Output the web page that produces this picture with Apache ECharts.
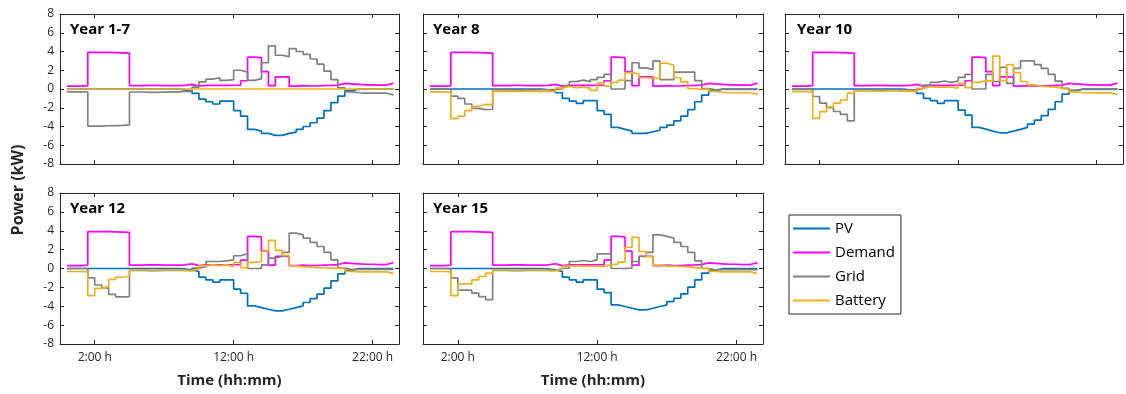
<!DOCTYPE html>
<html><head><meta charset="utf-8">
<script src="https://cdn.jsdelivr.net/npm/echarts@6/dist/echarts.min.js"></script>
<style>html,body{margin:0;padding:0;background:#fff}#c{width:1126px;height:394px}</style>
</head><body><div id="c"></div>
<script>
// time of each half-hour step (hours)
const hours = [0,0.5,1,1.5,2,2.5,3,3.5,4,4.5,5,5.5,6,6.5,7,7.5,8,8.5,9,9.5,10,10.5,11,11.5,12,12.5,13,13.5,14,14.5,15,15.5,16,16.5,17,17.5,18,18.5,19,19.5,20,20.5,21,21.5,22,22.5,23,23.5];
const xTicks = [2, 12, 22];
const panelTitles = ['Year 1-7', 'Year 8', 'Year 10', 'Year 12', 'Year 15'];
const seriesNames = ['PV', 'Demand', 'Grid', 'Battery'];

// Demand profile (same in every panel)
const demand = [0.3,0.3,0.35,3.9,3.9,3.9,3.88,3.85,3.82,0.35,0.35,0.38,0.38,0.35,0.35,0.35,0.38,0.5,0.3,0.38,0.38,0.38,0.38,0.4,0.4,0.88,3.4,3.35,1.85,0.35,1.3,1.3,0.3,0.35,0.32,0.32,0.35,0.38,0.42,0.6,0.55,0.5,0.45,0.45,0.42,0.42,0.62,0.62];

// Year 1-7
const pv1 = [0,0,0,0,0,0,0,0,0,0,0,0,0,0,0,0,-0.1,-0.2,-0.46,-1.07,-1.36,-1.6,-1.3,-1.3,-2.3,-2.9,-4.3,-4.5,-4.74,-4.95,-4.95,-4.74,-4.6,-4.3,-4.0,-3.6,-3.1,-2.3,-1.45,-0.75,-0.2,0,0,0,0,0,0,0];
const grid1 = [-0.3,-0.3,-0.32,-3.95,-3.95,-3.92,-3.9,-3.88,-3.82,-0.32,-0.32,-0.36,-0.36,-0.33,-0.3,-0.3,-0.25,-0.25,0.2,0.75,1.05,1.2,0.92,1.0,2.0,1.8,0.92,1.1,2.8,4.6,3.6,3.45,4.3,4.0,3.7,3.2,2.65,1.9,1.0,0.12,-0.3,-0.4,-0.45,-0.45,-0.45,-0.45,-0.62,-0.62];
const batt1 = [0,0,0,0,0,0,0,0,0,0,0,0,0,0,0,0,0,0,0,0,0,0,0,0,0,0,0,0,0,0,0,0,0,0,0,0,0,0,0,0,0,0,0,0,0,0,0,0];

// Year 8
const pv2 = [0,0,0,0,0,0,0,0,0,0,0,0,0,0,0,0,-0.08,-0.18,-0.4,-1.0,-1.3,-1.54,-1.25,-1.25,-2.3,-2.7,-4.1,-4.3,-4.5,-4.74,-4.74,-4.56,-4.4,-4.1,-3.85,-3.4,-2.9,-2.2,-1.36,-0.65,-0.18,0,0,0,0,0,0,0];
const grid2 = [0,0,0,-0.75,-1.0,-1.6,-2.06,-2.2,-2.16,-0.1,-0.1,-0.12,-0.12,-0.1,-0.1,-0.08,-0.08,-0.05,0.0,0.35,0.78,0.95,0.78,1.0,1.24,1.55,0.0,0.0,0.9,2.8,2.25,2.1,3.0,1.0,1.0,1.8,1.8,1.8,0.9,0.05,-0.1,-0.05,-0.05,-0.05,-0.05,-0.05,-0.05,-0.05];
const batt2 = [-0.3,-0.3,-0.35,-3.16,-2.9,-2.3,-1.84,-1.65,-1.66,-0.25,-0.25,-0.26,-0.26,-0.25,-0.25,-0.27,-0.22,-0.27,0.1,0.27,0.15,0.2,0.1,-0.15,0.66,0.3,0.7,0.95,1.75,1.6,1.2,1.15,1.1,2.75,2.55,1.2,0.75,0.05,-0.05,0.0,-0.25,-0.35,-0.4,-0.4,-0.38,-0.4,-0.57,-0.57];

// Year 10
const pv3 = [0,0,0,0,0,0,0,0,0,0,0,0,0,0,0,0,-0.08,-0.18,-0.47,-1.0,-1.25,-1.54,-1.25,-1.25,-2.25,-2.78,-4.1,-4.28,-4.49,-4.67,-4.67,-4.49,-4.31,-4.1,-3.74,-3.32,-2.85,-2.18,-1.36,-0.54,-0.18,0,0,0,0,0,0,0];
const grid3 = [-0.03,-0.03,-0.05,-0.8,-1.5,-2.0,-2.4,-2.7,-3.4,-0.15,-0.15,-0.15,-0.15,-0.15,-0.15,-0.12,-0.12,-0.1,0.07,0.42,0.7,0.85,0.7,0.85,1.24,1.56,0.0,0.0,1.56,0.8,2.3,0.6,2.2,3.0,3.0,2.6,2.2,1.56,0.85,0.07,-0.15,-0.05,-0.05,-0.05,-0.05,-0.05,-0.05,-0.05];
const batt3 = [-0.28,-0.28,-0.3,-3.13,-2.42,-1.9,-1.5,-1.15,-0.45,-0.2,-0.2,-0.23,-0.23,-0.2,-0.2,-0.22,-0.2,-0.3,0.07,0.25,0.2,0.2,0.2,0.1,0.6,0.15,0.7,0.9,0.85,3.5,0.9,2.6,1.75,0.8,0.45,0.3,0.25,0.2,0.1,-0.05,-0.3,-0.4,-0.4,-0.42,-0.42,-0.42,-0.6,-0.6];

// Year 12
const pv4 = [0,0,0,0,0,0,0,0,0,0,0,0,0,0,0,0,-0.05,-0.15,-0.32,-0.92,-1.2,-1.45,-1.2,-1.2,-2.19,-2.62,-3.96,-4.14,-4.32,-4.49,-4.49,-4.32,-4.14,-3.96,-3.6,-3.2,-2.72,-2.09,-1.31,-0.57,-0.2,0,0,0,0,0,0,0];
const grid4 = [0,0,0,-1.0,-1.75,-2.05,-2.75,-3.0,-2.97,-0.2,-0.2,-0.22,-0.22,-0.2,-0.2,-0.2,-0.2,-0.2,0.04,0.2,0.74,0.74,0.81,0.92,1.35,1.56,0.0,0.0,0.39,1.1,1.27,1.7,3.75,3.57,3.22,2.76,2.33,1.7,0.92,0.04,-0.12,-0.1,-0.1,-0.1,-0.1,-0.1,-0.1,-0.1];
const batt4 = [-0.32,-0.32,-0.35,-2.87,-2.1,-1.9,-1.15,-0.9,-0.85,-0.15,-0.15,-0.16,-0.16,-0.15,-0.15,-0.15,-0.2,-0.25,-0.05,0.28,0.39,0.3,0.39,0.2,0.64,0.08,0.64,0.74,1.8,2.97,1.91,1.4,0.28,0.2,0.15,0.1,0.08,0.05,0.05,0.0,-0.3,-0.35,-0.35,-0.35,-0.35,-0.35,-0.55,-0.55];

// Year 15
const pv5 = [0,0,0,0,0,0,0,0,0,0,0,0,0,0,0,0,-0.05,-0.15,-0.32,-0.92,-1.2,-1.45,-1.2,-1.2,-2.19,-2.55,-3.86,-4.03,-4.21,-4.39,-4.39,-4.21,-4.03,-3.86,-3.5,-3.15,-2.69,-1.98,-1.2,-0.5,-0.2,0,0,0,0,0,0,0];
const grid5 = [0,0,0,-1.0,-2.3,-2.3,-2.6,-2.97,-3.3,-0.2,-0.2,-0.22,-0.22,-0.2,-0.2,-0.2,-0.2,-0.2,0.0,0.05,0.74,0.85,0.74,0.92,1.56,1.56,0.0,0.0,0.04,0.74,1.27,1.7,3.57,3.4,3.22,2.76,2.33,1.7,0.81,0.0,-0.15,-0.12,-0.12,-0.12,-0.12,-0.12,-0.12,-0.12];
const batt5 = [-0.32,-0.32,-0.35,-2.87,-1.63,-1.63,-1.2,-0.85,-0.5,-0.15,-0.15,-0.16,-0.16,-0.15,-0.15,-0.15,-0.2,-0.25,-0.05,0.25,0.3,0.25,0.25,0.25,0.23,0.4,0.46,0.68,2.25,3.3,1.8,1.25,0.34,0.28,0.25,0.22,0.2,0.1,0.05,0.0,-0.3,-0.35,-0.35,-0.35,-0.35,-0.35,-0.55,-0.55];

const panels = [
  {pv: pv1, grid: grid1, batt: batt1},
  {pv: pv2, grid: grid2, batt: batt2},
  {pv: pv3, grid: grid3, batt: batt3},
  {pv: pv4, grid: grid4, batt: batt4},
  {pv: pv5, grid: grid5, batt: batt5}
];
const colors = {PV: '#0072BD', Demand: '#FF00FF', Grid: '#808080', Battery: '#EDB120'};

const FONT = 'Open Sans';
const AX = '#262626';
const boxes = [
  {left: 60, top: 14, width: 339, height: 150},
  {left: 423, top: 14, width: 340, height: 150},
  {left: 785, top: 14, width: 338, height: 150},
  {left: 60, top: 193, width: 339, height: 151},
  {left: 423, top: 193, width: 340, height: 151}
];
const titlePos = [[70, 22], [433, 22], [797, 22], [70, 201], [433, 201]];

const grids = [], xAxes = [], yAxes = [], series = [], titles = [];
boxes.forEach((b, gi) => {
  grids.push(Object.assign({containLabel: false}, b));
  const bottomRow = gi >= 3;
  const leftCol = gi === 0 || gi === 3;
  const line = {show: true, onZero: false, lineStyle: {color: AX, width: 1}};
  const tick = {show: true, inside: true, length: 4, lineStyle: {color: AX}, customValues: xTicks};
  xAxes.push({
    gridIndex: gi, type: 'value', min: -0.5, max: 23.9, position: 'bottom',
    axisLine: line, axisTick: tick,
    axisLabel: {show: bottomRow, customValues: xTicks, formatter: v => v + ':00 h', color: AX, fontFamily: FONT, fontSize: 12, margin: 8},
    splitLine: {show: false},
    name: bottomRow ? 'Time (hh:mm)' : '', nameLocation: 'middle', nameGap: 29,
    nameTextStyle: {fontFamily: FONT, fontWeight: 'bold', fontSize: 15, color: AX}
  });
  xAxes.push({
    gridIndex: gi, type: 'value', min: -0.5, max: 23.9, position: 'top',
    axisLine: line, axisTick: tick, axisLabel: {show: false}, splitLine: {show: false}
  });
  const ytick = {show: true, inside: true, length: 4, lineStyle: {color: AX}};
  yAxes.push({
    gridIndex: gi, type: 'value', min: -8, max: 8, interval: 2, position: 'left',
    axisLine: line, axisTick: ytick,
    axisLabel: {show: leftCol, color: AX, fontFamily: FONT, fontSize: 12, margin: 6},
    splitLine: {show: false}
  });
  yAxes.push({
    gridIndex: gi, type: 'value', min: -8, max: 8, interval: 2, position: 'right',
    axisLine: line, axisTick: ytick, axisLabel: {show: false}, splitLine: {show: false}
  });
  const p = panels[gi];
  const vals = {PV: p.pv, Demand: demand, Grid: p.grid, Battery: p.batt};
  seriesNames.forEach(name => {
    series.push({
      name, type: 'line', step: 'end', xAxisIndex: gi * 2, yAxisIndex: gi * 2,
      symbol: 'none', animation: false,
      lineStyle: {color: colors[name], width: 1.7},
      itemStyle: {color: colors[name]},
      data: hours.map((h, i) => [h, vals[name][i]])
    });
  });
  titles.push({
    text: panelTitles[gi], left: titlePos[gi][0], top: titlePos[gi][1], padding: 0,
    textStyle: {fontFamily: FONT, fontWeight: 'bold', fontSize: 15, color: '#000'}
  });
});

const chart = echarts.init(document.getElementById('c'), null, {renderer: 'canvas'});
chart.setOption({
  animation: false,
  title: titles,
  grid: grids, xAxis: xAxes, yAxis: yAxes, series,
  legend: {
    data: seriesNames, orient: 'vertical', left: 789, top: 215,
    icon: 'rect', itemWidth: 37, itemHeight: 2, itemGap: 9,
    padding: [6, 6, 6, 4], borderColor: AX, borderWidth: 1,
    textStyle: {fontFamily: FONT, fontSize: 15, color: '#000'},
    selectedMode: false
  },
  graphic: [{
    type: 'text', x: 18, y: 190, rotation: Math.PI / 2,
    style: {text: 'Power (kW)', font: 'bold 16px "Open Sans"', fill: AX, textAlign: 'center', textVerticalAlign: 'middle'}
  }]
});
</script></body></html>
